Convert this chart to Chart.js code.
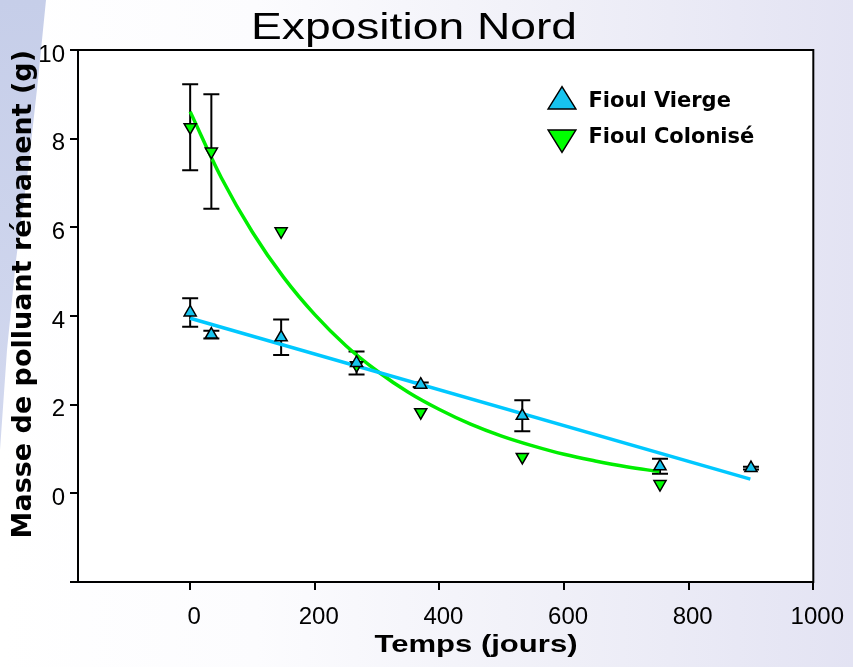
<!DOCTYPE html>
<html lang="fr">
<head>
<meta charset="utf-8">
<title>Exposition Nord</title>
<script src="https://cdn.jsdelivr.net/npm/chart.js@4.4.1/dist/chart.umd.min.js"></script>
<style>
  html, body { margin: 0; padding: 0; }
  body {
    width: 853px; height: 667px; overflow: hidden; position: relative;
    background: linear-gradient(to right, #ffffff 0%, #fcfcfe 30%, #f0f0f8 65%, #e3e3f3 100%);
  }
  .bande {
    position: absolute; left: 0; top: 0; width: 60px; height: 470px;
    background: linear-gradient(to bottom, #c6cee9, #d3d9ef);
    clip-path: polygon(0 0, 46px 0, 38px 80px, 28px 170px, 16px 260px, 7px 350px, 0 450px);
  }
  #zone { position: absolute; left: 0; top: 0; width: 853px; height: 667px; }
</style>
</head>
<body>
<div class="bande"></div>
<div id="zone"><canvas id="graphe"></canvas></div>
<script>
// Fioul Vierge : temps (jours), masse (g), écart
const joursVierge = [0, 34, 146, 267, 370, 533, 754, 900];
const masseVierge = [4.08, 3.58, 3.52, 2.94, 2.45, 1.75, 0.61, 0.57];
const erreurVierge = [0.32, 0.09, 0.40, 0.26, 0.05, 0.35, 0.17, 0.03];

// Fioul Colonisé
const joursColonise = [0, 34, 146, 267, 370, 533, 754];
const masseColonise = [8.26, 7.71, 5.91, 2.89, 1.83, 0.82, 0.21];
const erreurColonise = [0.97, 1.29, 0, 0, 0, 0, 0];

// droite d'ajustement du fioul vierge
const joursDroite = [0, 899];
const masseDroite = [3.95, 0.32];

// courbe de décroissance du fioul colonisé
const joursCourbe = [0, 50, 100, 150, 200, 250, 300, 350, 400, 450, 500, 550, 600, 650, 700, 753];
const masseCourbe = [8.61, 7.12, 5.89, 4.87, 4.03, 3.33, 2.76, 2.28, 1.89, 1.56, 1.29, 1.07, 0.88, 0.73, 0.60, 0.49];

// graduations
const xTicks = [0, 200, 400, 600, 800, 1000];
const yTicks = [-2, 0, 2, 4, 6, 8, 10];
const yTickLabels = ['', '0', '2', '4', '6', '8', '10'];

const points = (xs, ys) => xs.map((x, i) => ({ x: x, y: ys[i] }));

// fond blanc et cadre de la zone de tracé
const cadre = {
  id: 'cadre',
  beforeDraw(chart) {
    const { ctx, chartArea: a } = chart;
    ctx.save();
    ctx.fillStyle = '#fff';
    ctx.fillRect(a.left, a.top, a.width, a.height);
    ctx.restore();
  },
  afterDraw(chart) {
    const { ctx, chartArea: a } = chart;
    ctx.save();
    ctx.strokeStyle = '#000';
    ctx.lineWidth = 2;
    ctx.strokeRect(a.left, a.top, a.width, a.height);
    ctx.restore();
  }
};

// barres d'erreur verticales
const barresErreur = {
  id: 'barresErreur',
  beforeDatasetsDraw(chart) {
    const { ctx, scales: { x, y } } = chart;
    ctx.save();
    ctx.strokeStyle = '#000';
    ctx.lineWidth = 2;
    chart.data.datasets.forEach(ds => {
      if (!ds.erreurs) return;
      ds.data.forEach((p, i) => {
        const e = ds.erreurs[i];
        if (!e) return;
        const px = x.getPixelForValue(p.x);
        const y1 = y.getPixelForValue(p.y + e);
        const y2 = y.getPixelForValue(p.y - e);
        ctx.beginPath();
        ctx.moveTo(px, y1); ctx.lineTo(px, y2);
        ctx.moveTo(px - 8, y1); ctx.lineTo(px + 8, y1);
        ctx.moveTo(px - 8, y2); ctx.lineTo(px + 8, y2);
        ctx.stroke();
      });
    });
    ctx.restore();
  }
};

// légende placée dans le coin haut droit du graphe
const placeLegende = {
  id: 'placeLegende',
  afterLayout(chart) {
    const lg = chart.legend;
    if (!lg) return;
    lg.left = 531;
    lg.top = 76;
    lg.bottom = 300;
  }
};

// texte étiré horizontalement jusqu'à la largeur voulue
function texteEtire(ctx, txt, cx, base, largeur) {
  const w = ctx.measureText(txt).width;
  ctx.save();
  ctx.translate(cx, base);
  ctx.scale(largeur / w, 1);
  ctx.fillText(txt, 0, 0);
  ctx.restore();
}

// titre et titre de l'axe des abscisses
const titres = {
  id: 'titres',
  afterDraw(chart) {
    const ctx = chart.ctx;
    ctx.save();
    ctx.fillStyle = '#000';
    ctx.textAlign = 'center';
    ctx.textBaseline = 'alphabetic';
    ctx.font = '36px "Liberation Sans"';
    texteEtire(ctx, 'Exposition Nord', 414, 39, 326);
    ctx.font = 'bold 24px "Liberation Sans"';
    texteEtire(ctx, 'Temps (jours)', 476, 652, 203);
    ctx.restore();
  }
};

new Chart(document.getElementById('graphe'), {
  type: 'scatter',
  data: {
    datasets: [
      {
        label: 'Fioul Vierge',
        data: points(joursVierge, masseVierge),
        erreurs: erreurVierge,
        pointStyle: 'triangle',
        pointRadius: 7,
        backgroundColor: '#17c3ee',
        borderColor: '#000',
        borderWidth: 1.5
      },
      {
        label: 'Fioul Colonisé',
        data: points(joursColonise, masseColonise),
        erreurs: erreurColonise,
        pointStyle: 'triangle',
        pointRotation: 180,
        pointRadius: 7,
        backgroundColor: '#00ff00',
        borderColor: '#000',
        borderWidth: 1.5
      },
      {
        type: 'line',
        label: 'ajustement vierge',
        data: points(joursDroite, masseDroite),
        borderColor: '#00c8ff',
        borderWidth: 3.5,
        pointRadius: 0,
        fill: false
      },
      {
        type: 'line',
        label: 'ajustement colonisé',
        data: points(joursCourbe, masseCourbe),
        borderColor: '#00ee00',
        borderWidth: 3.5,
        pointRadius: 0,
        fill: false,
        tension: 0.4
      }
    ]
  },
  options: {
    responsive: true,
    maintainAspectRatio: false,
    animation: false,
    layout: { padding: { left: 0, top: 50, right: 39, bottom: 0 } },
    plugins: {
      title: { display: false },
      tooltip: { enabled: false },
      legend: {
        position: 'chartArea',
        align: 'start',
        labels: {
          usePointStyle: true,
          pointStyleWidth: 32,
          padding: 15,
          color: '#000',
          font: { family: 'DejaVu Sans', size: 21, weight: 'bold' },
          filter: (item, data) => !data.datasets[item.datasetIndex].type
        }
      }
    },
    scales: {
      x: {
        type: 'linear',
        position: 'bottom',
        min: -180,
        max: 1000,
        afterBuildTicks: scale => { scale.ticks = xTicks.map(v => ({ value: v })); },
        afterFit: scale => { scale.height = 85; },
        border: { display: false },
        grid: { drawOnChartArea: false, tickLength: 8, color: '#000', lineWidth: 2 },
        ticks: {
          color: '#000',
          font: { family: 'Liberation Sans', size: 24 },
          padding: 13,
          labelOffset: 4,
          maxRotation: 0,
          autoSkip: false,
          callback: value => String(value)
        }
      },
      y: {
        type: 'linear',
        min: -2,
        max: 10,
        afterBuildTicks: scale => { scale.ticks = yTicks.map(v => ({ value: v })); },
        afterFit: scale => { scale.width = 78; },
        border: { display: false },
        grid: { drawOnChartArea: false, tickLength: 8, color: '#000', lineWidth: 2 },
        ticks: {
          color: '#000',
          font: { family: 'Liberation Sans', size: 24 },
          padding: 5,
          labelOffset: 5,
          autoSkip: false,
          callback: (value, index) => yTickLabels[index]
        },
        title: {
          display: true,
          text: 'Masse de polluant rémanent (g)',
          align: 'end',
          color: '#000',
          font: { family: 'DejaVu Sans', size: 27, weight: 'bold' },
          padding: { top: 8, bottom: 0 }
        }
      }
    }
  },
  plugins: [cadre, barresErreur, placeLegende, titres]
});
</script>
</body>
</html>
